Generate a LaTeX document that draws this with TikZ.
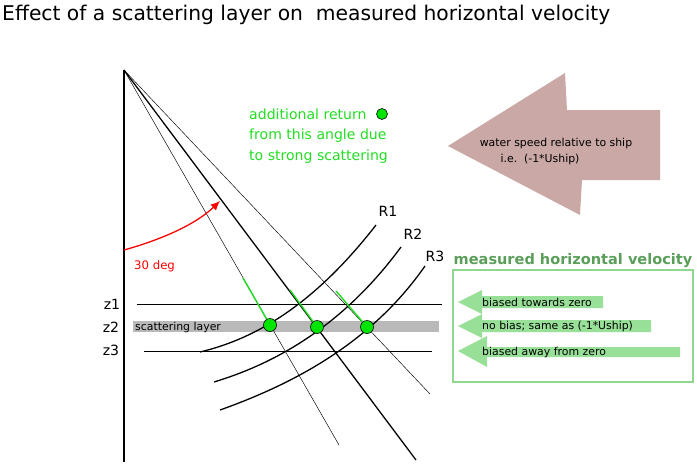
\documentclass[tikz,border=0pt]{standalone}
\usepackage{fontspec}
\setmainfont{DejaVu Sans}
\usetikzlibrary{arrows.meta}
\definecolor{brn}{HTML}{C9A8A5}
\definecolor{lg}{HTML}{98E098}
\definecolor{bxg}{HTML}{90D890}
\definecolor{tg}{HTML}{5A9E5A}
\definecolor{gtx}{HTML}{22DD22}
\begin{document}
\begin{tikzpicture}[x=0.03cm,y=-0.03cm,
  lbl/.style={inner sep=0pt,font=\fontsize{12}{14}\selectfont},
  sm/.style={inner sep=0pt,font=\fontsize{9.3}{11}\selectfont},
  dot/.style={circle,fill=green!90!black,draw=black,line width=0.5pt,minimum size=13*0.03cm,inner sep=0pt},
  barr/.style={fill=lg,draw=none}]
\useasboundingbox (0,0) rectangle (697,464);
\node[anchor=west,inner sep=0pt,font=\fontsize{17.3}{20}\selectfont] (title) at (2,15) {Effect of a scattering layer on\ \ measured horizontal velocity};
\coordinate (apex) at (124,70);
\coordinate (vb) at (124,462);
\draw[line width=1.2pt] (apex) -- (vb);
% layer
\fill[gray!55] (133,321) rectangle (439,332);
\node[sm,anchor=west] (sl) at (135,327) {scattering layer};
\coordinate (z1a) at (137,304); \coordinate (z1b) at (442,304);
\coordinate (z3a) at (144,351); \coordinate (z3b) at (432,351);
\draw[line width=0.6pt] (z1a) -- (z1b);
\draw[line width=0.6pt] (z3a) -- (z3b);
\node[lbl] (z1) at (112,304) {z1};
\node[lbl] (z2) at (111,327) {z2};
\node[lbl] (z3) at (111,350) {z3};
% beams
\coordinate (b1) at (339,445);
\coordinate (b2) at (416,460);
\coordinate (b3) at (430,394);
\draw[line width=0.4pt] (apex) -- (b1);
\draw[line width=1.1pt] (apex) -- (b2);
\draw[line width=0.4pt] (apex) -- (b3);
% arcs
\draw[line width=1.1pt] (200,352) .. controls (250,340) and (310,310) .. (376,225);
\draw[line width=1.1pt] (214,382) .. controls (270,365) and (340,330) .. (401,247);
\draw[line width=1.1pt] (220,410) .. controls (290,385) and (370,345) .. (425,266);
\node[lbl] (R1) at (388,211) {R1};
\node[lbl] (R2) at (413,234) {R2};
\node[lbl] (R3) at (435,256) {R3};
% dots
\node[dot] (d1) at (270,325) {};
\node[dot] (d2) at (317,327) {};
\node[dot] (d3) at (367,327) {};
\coordinate (g1) at (243,278); \coordinate (g2) at (290,290); \coordinate (g3) at (336,291);
\draw[gtx,line width=1.2pt] (g1) -- (d1);
\draw[gtx,line width=1.2pt] (g2) -- (d2);
\draw[gtx,line width=1.2pt] (g3) -- (d3);
% red arrow
\coordinate (ra) at (124,250);
\coordinate (rb) at (220,201);
\draw[red,line width=1.1pt,-{Latex[length=8pt,width=7pt]}] (ra) .. controls (160,240) and (195,225) .. (rb);
\node[sm,red,anchor=west,font=\fontsize{10}{12}\selectfont] (deg) at (134,266) {30 deg};
% green text
\node[inner sep=0pt,text=gtx,align=left,anchor=west,font=\fontsize{12}{17.5}\selectfont] (gt) at (249,136) {additional return\\from this angle due\\to strong scattering};
\node[dot,minimum size=11*0.03cm] (gd) at (382,114) {};
% big arrow
\fill[brn] (448,146) -- (565,73) -- (567,110) -- (660,110) -- (660,180) -- (582,180) -- (580,215) -- cycle;
\node[sm] (ws) at (556,143) {water speed relative to ship};
\node[sm] (ie) at (540,159) {i.e.\ \ (-1*Uship)};
% box
\node[inner sep=0pt,text=tg,font=\bfseries\fontsize{12.4}{14}\selectfont] (mh) at (573,261) {measured horizontal velocity};
\draw[bxg,line width=1.2pt] (453,270) rectangle (693,382);
\fill[barr] (458,302) -- (482,290) -- (482,296) -- (603,296) -- (603,308) -- (482,308) -- (482,314) -- cycle;
\fill[barr] (458,326) -- (482,314) -- (482,320) -- (651,320) -- (651,332) -- (482,332) -- (482,338) -- cycle;
\fill[barr] (458,351) -- (487,336) -- (487,347) -- (680,347) -- (680,357) -- (487,357) -- (487,367) -- cycle;
\node[sm,anchor=west] (t1) at (482,302) {biased towards zero};
\node[sm,anchor=west] (t2) at (482,326) {no bias; same as (-1*Uship)};
\node[sm,anchor=west] (t3) at (482,352) {biased away from zero};
\end{tikzpicture}
\end{document}
